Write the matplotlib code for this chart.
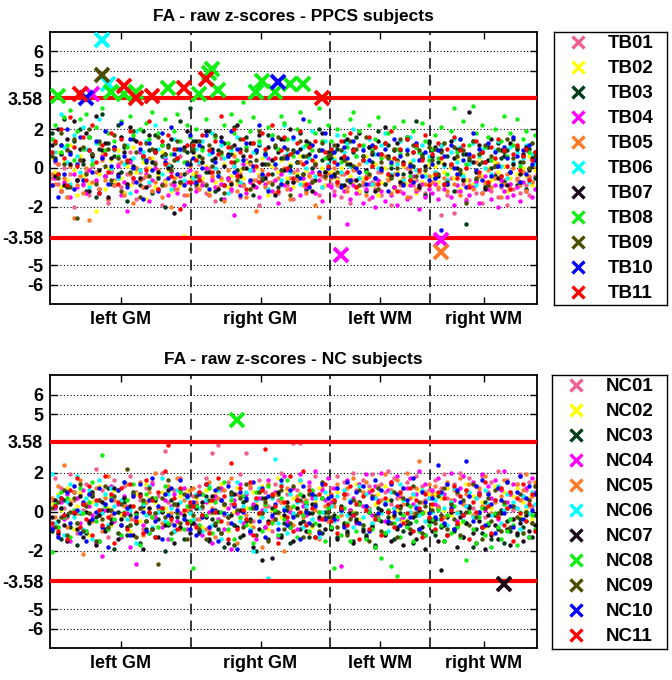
import numpy as np
import matplotlib.pyplot as plt
from matplotlib.lines import Line2D

plt.rcParams['font.family'] = ['Liberation Sans', 'DejaVu Sans']
plt.rcParams['font.weight'] = 'bold'

regions = ["left GM", "right GM", "left WM", "right WM"]
n_regions = [45, 44, 32, 34]
thr = 3.58
yticks = [-6, -5, -3.58, -2, 0, 2, 3.58, 5, 6]
ytick_labels = ["-6", "-5", "-3.58", "-2", "0", "2", "3.58", "5", "6"]
grid_y = [-6, -5, -2, 0, 2, 5, 6]

tb_names = ["TB01", "TB02", "TB03", "TB04", "TB05", "TB06", "TB07", "TB08", "TB09", "TB10", "TB11"]
nc_names = ["NC01", "NC02", "NC03", "NC04", "NC05", "NC06", "NC07", "NC08", "NC09", "NC10", "NC11"]
colors = ['#f0608e', '#ffff00', '#003d1c', '#ff00ff', '#ff7a28', '#00ffff',
          '#1c0a1c', '#11ee11', '#4d4d00', '#0000ff', '#ff0000']

# z-scores (x10) per region, one line per region group: left GM, right GM, left WM, right WM
# ---- PPCS subjects ----
TB01 = [-5, 3, -8, -12, 0, -15, -3, -20, -6, 4, -9, -2, -14, 1, -7, -11, 5, -4, -18, -1, -6, 2, -10, -13, -3, 8, -7, -16, -2, -5, 0, -9, -12, 3, -4, -19, -6, 1, -8, -11, -3, 6, -14, -2, -7,
        -4, -10, 2, -7, -13, 0, -5, -17, -2, 5, -9, -6, -12, 1, -3, -15, -8, 4, -1, -10, -6, -19, 2, -4, -11, -7, 0, -13, -2, 6, -9, -5, -16, -1, 3, -8, -12, -3, -6, 1, -14, -4, -9, 0,
        -8, -12, -5, -15, -3, -10, -18, -6, -1, -13, -9, -4, -16, -7, -11, -2, -14, -8, -5, -19, -10, -3, -12, -7, 0, -15, -9, -6, -11, -4, -13, -8,
        -7, -3, -11, -24, -9, -14, -5, -23, -12, -2, -8, -16, -6, -10, -13, -4, -18, -9, -7, -12, -3, -15, -10, -6, -19, -8, -11, -5, -13, -2, -9, -14, -7, -4]
TB02 = [5, -2, 8, -10, 3, -6, 12, -1, -14, 6, -4, 10, -8, 2, -22, -3, 7, -11, 0, 4, -7, 9, -5, -13, 1, -9, 11, -2, -6, 3, -16, 0, 5, -10, -3, 8, -7, -1, -12, 4, -4, -9, -35, 2, -6,
        -3, 6, -9, -5, 1, -12, 4, -7, -2, -6, 2, -10, -4, 7, -8, -1, -5, 3, -11, -6, 0, -3, 5, -9, -14, 1, -6, -2, 4, -8, -5, 2, -10, -3, 6, -7, -1, -4, -12, 3, -6, 0, -9, -2,
        -2, 5, -6, 0, -10, 3, -4, -8, 1, -12, -5, 6, -3, -9, 2, -14, -7, 0, -4, 4, -11, -2, -6, 1, -8, 3, -5, -13, -1, -7, -3, 2,
        -4, 1, -7, 3, -2, -9, 0, -5, 4, -11, -3, -6, 2, -8, -1, 5, -4, -10, 0, -6, 3, -2, -7, 1, -12, -5, 2, -3, -8, 0, -4, 6, -9, -1]
TB03 = [18, 5, -3, 12, 25, -10, 8, 14, -6, 20, 2, -12, 16, 7, -15, 10, 28, -4, 13, -8, 6, 22, -2, 11, -17, 4, 15, 0, -9, 19, 3, 9, -13, 17, -5, 6, -20, 12, 1, -7, 10, 24, -3, 8, 31,
        14, -8, 6, 11, -2, 19, 4, -12, 9, -16, 13, -5, 7, 21, -1, 10, -9, 16, 3, -14, 8, 12, -6, 2, 17, -3, 11, -10, 5, 15, -7, 1, 9, -4, 18, 6, -11, 13, 0, -6, 20, 4, -2, 8,
        5, -4, 10, -9, 14, 2, -7, 8, 16, -2, 6, -12, 11, 3, -5, 19, 7, -8, 12, 0, -10, 4, 9, -3, 15, -6, 1, 24, -9, 7, -14, 13,
        9, -5, 3, 12, -8, 6, 1, -12, 10, -3, 7, -29, 4, 14, -6, 2, 8, -10, 11, 0, -4, 13, 5, -7, 9, -2, 15, -9, 3, 6, -11, 10, 1, -5]
TB04 = [-9, -5, 2, -12, -7, 10, -15, -3, -10, 4, -8, -13, -1, 38, -6, -11, 6, -4, -16, -2, -9, 1, -14, -7, -22, 3, -5, -12, 8, -10, -3, -17, -6, 0, -11, -8, 5, -14, -2, -9, -13, -4, -19, -7, -1,
        -7, -12, -4, -9, 0, -14, -6, -10, -2, -8, -16, -5, -11, -24, -3, -9, 2, -13, -7, -1, -10, -15, -4, -8, 5, -12, -6, -18, -3, -9, -1, -11, -7, 3, -14, -5, -10, -8, -2, -13, -6, -17, -4, -9,
        -10, -14, -7, -45, -12, -29, -16, -9, -13, -5, -18, -11, -8, -15, -20, -6, -12, -17, -3, -14, -10, -19, -7, -13, -16, -9, -4, -12, -21, -8, -15, -11,
        -13, -8, -16, -37, -11, -6, -15, -19, -9, -12, -5, -17, -14, -10, -7, -18, -13, -4, -11, -16, -9, -20, -6, -12, -15, -8, -14, -10, -17, -7, -12, -5, -15, -11]
TB05 = [-3, -8, 2, -12, -5, -15, 1, -26, -9, -4, -13, 0, -27, -7, -2, -11, 4, -6, -16, -1, -9, -5, 3, -14, -8, -3, -18, 0, -6, -10, -4, 5, -12, -7, -1, -15, -9, 2, -20, -5, -11, -3, -8, -14, 1,
        -6, -2, -11, 3, -8, -14, -4, 0, -10, -5, -17, -1, -7, 6, -12, -3, -9, -15, 2, -6, -22, -4, -1, -10, -7, 4, -13, -5, -8, 0, -11, -16, -2, -6, 3, -9, -13, -4, -7, -19, -25, -10, -5, -3,
        -5, 0, -9, -3, 4, -12, -6, -1, -10, 2, -7, -14, -4, 1, -8, -11, -2, 6, -6, -13, -3, 3, -9, -5, -15, 0, -7, -11, -2, 5, -8, -4,
        -7, -2, -10, -43, -5, -12, 1, -8, -3, -14, -6, 0, -9, -11, 3, -4, -13, -7, -1, -10, -5, 2, -15, -8, -3, -11, 0, -6, -9, -2, -12, -4, -7, 1]
TB06 = [15, 8, -4, 28, 11, 3, -8, 17, 6, -2, 21, 10, -10, 4, 13, 25, 66, 7, 43, 0, 9, -5, 16, 2, 12, -13, 5, 19, -1, 8, 14, -7, 3, 22, 10, -3, 6, 1, -11, 15, 4, 9, -6, 12, 2,
        -5, 10, 3, 14, -9, 7, 18, 0, -3, 12, 5, -13, 9, 1, 16, -7, 4, 11, -1, 8, 39, 13, -4, 6, -11, 17, 2, 10, -6, 22, 7, -2, 15, 3, -8, 11, 0, 5, 19, -4, 9, -10, 14, 2,
        10, 4, 17, -2, 8, 13, 1, 20, 6, -5, 11, 3, 15, -8, 7, 0, 12, 18, 5, -3, 9, 2, 14, -6, 10, 16, 4, -1, 8, 12, -4, 6,
        5, -2, 9, 12, 1, -6, 8, 15, 3, 11, -4, 7, 2, 13, -9, 6, 10, 0, 4, -3, 9, 14, 1, 6, -5, 11, 3, 8, -1, 5, 12, -7, 7, 2]
TB07 = [12, -4, 20, 7, -9, 15, 2, 24, -6, 10, 4, 18, -12, 6, 27, -1, 9, 13, -15, 5, 11, -3, 16, 8, -8, 21, 1, 14, -5, 6, -10, 17, 3, 9, -2, 12, 7, 0, 15, -23, 5, -7, 11, 19, 2,
        8, 14, -6, 3, 19, -2, 10, 5, -11, 16, 1, 7, -8, 12, 22, -4, 6, 0, 13, -9, 9, 17, 2, -5, 11, 4, -14, 8, 15, -1, 6, 20, -7, 3, 10, -3, 14, 7, -12, 2, 9, 18, -2, 5,
        8, -3, 12, 5, -9, 15, 2, 10, -6, 18, 4, -1, 11, 7, -12, 14, 0, 21, 6, -4, 9, 13, -7, 3, 16, -2, 8, 11, -10, 5, 1, 14,
        6, 11, -4, 9, 2, -8, 14, 5, 0, 10, -6, 7, 29, 3, -2, 12, 8, -11, 4, 15, 1, -5, 9, 6, -9, 13, 2, 10, -3, 7, 11, -1, 5, 8]
TB08 = [15, 22, 37, 8, 26, 12, 30, 4, 19, 25, 10, 28, 16, 2, 21, 13, 31, 9, 18, 39, 14, 6, 24, 38, 11, 27, 17, 39, 20, 5, 23, 15, 29, 8, 18, 12, 25, 41, 7, 19, 28, 14, 3, 22, 16,
        12, 20, 38, 9, 25, 49, 51, 16, 40, 7, 22, 13, 28, 18, 4, 24, 34, 11, 19, 26, 39, 14, 45, 8, 21, 17, 39, 10, 27, 23, 15, 43, 6, 20, 29, 43, 12, 24, 9, 18, 31, 14, 5, 22,
        14, 8, 20, 3, 17, 11, 25, 29, 6, 19, 12, -2, 22, 9, 15, 26, 5, 13, 18, 2, 21, 10, 7, 24, 16, -4, 19, 11, 8, 23, 14, 4,
        10, 17, 5, 21, 13, -3, 19, 31, 8, 15, 24, 2, 12, 32, 18, 7, 22, 11, 16, 4, 20, 9, 14, 27, 6, 18, 12, 25, 1, 15, 19, 8, 13, 17]
TB09 = [6, 13, -5, 18, 2, 9, -10, 15, -26, 4, 11, -3, 20, 7, -8, 14, 48, 1, 10, -6, 17, 5, -12, 12, 3, -2, 19, 8, -15, 6, 13, -4, 10, 2, 16, -9, 7, 11, -1, 4, 14, -7, 9, 3, -11,
        10, -4, 14, 5, -9, 12, 1, 17, -2, 8, -13, 6, 11, 3, -6, 15, 0, 9, -11, 13, 4, 19, -5, 7, 2, -8, 12, 16, -1, 5, 10, -14, 8, 3, 14, -3, 6, 11, -7, 2, 9, 13, -4, 6,
        7, 12, -2, 9, 4, -6, 14, 1, 10, -9, 6, 16, -3, 8, 11, -11, 3, 13, 5, -5, 10, 0, 15, -8, 7, 2, 12, -4, 9, 6, -1, 11,
        4, 10, -3, 8, 13, -7, 2, 11, 6, -1, 9, -18, 5, 14, -5, 7, 3, 12, -9, 6, 1, 10, -4, 8, 15, -2, 5, 11, -7, 3, 9, 0, 13, 6]
TB10 = [-9, 4, -15, 12, -3, 20, 7, -11, 2, 16, -6, 36, 9, -2, 14, -13, 5, 19, -8, 1, 11, -4, 23, 6, -10, 15, 0, -7, 10, -16, 4, 13, -1, 8, -12, 18, 3, -5, 21, 7, -3, 10, -9, 2, 17,
        5, -7, 12, 0, 17, -11, 8, 3, -4, 14, -9, 6, 19, -2, 10, -14, 4, 13, -6, 1, 9, 22, -3, 7, -12, 15, 2, 44, -8, 11, 5, -1, 16, 8, -5, 25, 3, -10, 12, 6, -2, 9, 18, 0,
        -4, 8, 2, -10, 11, 5, -6, 14, 0, -2, 9, -8, 4, 12, -5, 7, -1, 10, -12, 3, 15, -3, 6, -9, 9, 1, -7, 13, 4, -4, 8, -6,
        2, -5, 9, -32, 6, -8, 12, 0, -3, 15, 4, -10, 7, 18, -1, 10, -6, 3, 13, -4, 8, 1, -9, 11, 5, -2, 16, 6, -7, 9, -3, 12, 2, 4]
TB11 = [8, 14, -3, 20, 5, -9, 26, 11, 1, 38, 16, -6, 9, 22, 3, -13, 12, 7, -2, 18, 10, -8, 15, 42, 4, 19, -5, 36, 13, 6, -1, 24, 37, 8, -11, 14, 2, 17, -4, 10, 5, -21, 41, 12, -7,
        12, 4, -6, 17, 46, 9, -2, 14, 7, 27, -9, 11, 3, 20, -4, 8, 15, -11, 6, 13, 1, -7, 18, 10, -3, 22, 5, -12, 9, 16, 0, 7, -5, 13, 19, 2, -8, 11, 4, 14, -3, 36, 8, 1,
        10, 3, -7, 14, 6, -2, 18, 9, -10, 12, 4, -5, 16, 1, 11, -8, 7, 13, -3, 19, 5, -12, 10, 2, 15, -6, 8, 12, -1, 4, 17, -9,
        7, -3, 13, 5, -8, 10, 2, 16, -5, 9, 12, 0, -10, 6, 14, -2, 8, 3, -7, 11, 5, 15, -4, 9, 1, -11, 7, 12, -1, 6, 10, -6, 4, 8]

# ---- NC subjects ----
NC01 = [5, 17, -8, 12, 2, -3, 19, 6, -11, 9, 1, 14, -5, 8, 22, -2, 11, 4, -13, 7, 16, 0, -7, 13, 3, 18, -4, 10, 6, -9, 12, 2, 15, -1, 8, 20, 31, 5, -6, 11, 3, 17, -3, 9, 1,
        8, -4, 13, 2, 17, -9, 30, 6, 34, 11, -2, 15, 4, -7, 9, 19, 1, 30, 12, -5, 7, 16, -1, 10, 3, -10, 14, 6, 20, -3, 9, 2, 35, 11, 35, 5, -6, 13, 8, 18, 0, 12, -4, 7,
        12, 6, 18, 2, 15, 9, -3, 20, 11, 5, 16, 1, 13, 19, 8, -2, 14, 10, 21, 4, 17, 7, -4, 12, 15, 3, 9, 18, 0, 13, 6, 11,
        10, 16, 3, 12, 19, 7, -1, 14, 9, 20, 5, 11, 17, 2, 13, 8, 18, -3, 10, 15, 6, 21, 12, 4, 16, 9, 1, 14, 19, 7, 11, 15, 3, 13]
NC02 = [4, -6, 9, 1, -3, 12, 6, -9, 3, 10, -1, 7, -12, 5, 0, 13, -4, 8, 2, -7, 11, 4, -2, 15, 6, -10, 3, 9, -5, 1, 14, 7, -3, 5, -8, 10, 2, -1, 12, 4, -6, 8, 0, 11, 3,
        -3, 7, 2, -8, 11, 5, -1, 9, -5, 14, 3, -10, 6, 0, 12, -4, 8, 2, -7, 10, 4, -2, 13, 6, -9, 1, 9, 17, -3, 5, 11, -6, 7, 2, 15, -1, 4, 9, -8, 6, 12, 0, -4, 8,
        6, -2, 10, 3, -6, 12, 5, 0, 14, -4, 8, 2, 11, -7, 4, 9, -1, 13, 6, -3, 10, 1, 7, -5, 12, 3, 8, -2, 11, 5, 0, 9,
        3, 9, -4, 7, 1, 12, -2, 6, 10, -6, 4, 14, 0, 8, -3, 11, 5, -8, 9, 2, 13, -1, 6, 10, -5, 3, 8, 12, -2, 5, 1, 7, -4, 9]
NC03 = [-10, 3, -5, -14, 6, -2, -8, 10, -17, -1, 4, -11, -6, 8, -3, -15, 1, -9, 12, -4, -19, 0, -7, 5, -12, -2, 9, -6, -16, 3, -9, -1, 7, -13, -4, 2, -20, -7, 6, -10, -3, 11, -14, -5, 0,
        -6, 4, -11, -2, 8, -15, -4, 1, -9, 6, -18, -3, 10, -7, 0, -13, 5, -5, -10, 3, -20, -1, 7, -8, -14, 2, -4, 9, -12, -6, 1, -16, -2, 6, -9, -5, 4, -13, -1, 8, -7, -11, 0, -3,
        -8, -2, -13, 3, -6, -10, 1, -15, -4, 5, -9, -12, 0, -7, -17, 2, -5, -11, -3, 6, -14, -8, -1, -10, 4, -6, -16, -2, -9, 0, -12, -4,
        -5, -12, 2, -8, -15, -3, 4, -10, -7, 0, -13, -6, 3, -18, -9, -1, -11, 5, -7, -14, -2, -9, 1, -16, -5, -10, 3, -12, -4, -8, 0, -13, -6, -2]
NC04 = [-8, 2, -12, 5, -4, 9, -15, 0, 7, -6, 11, -10, 3, -2, -16, 6, -23, 1, -9, 13, -5, 4, -13, 8, -1, -18, 10, -27, 2, -7, 5, -11, 14, -3, 0, -8, 6, -14, 3, 9, -5, -1, 12, -9, 4,
        3, -7, 10, -12, 5, 0, -16, 8, -4, 12, -9, 2, -19, 6, -1, 14, -6, 9, -11, 4, -14, 7, 1, -8, 16, -3, 10, -13, 5, 18, -5, 0, 12, -9, 19, 3, -2, 15, 7, 21, -4, 11, 6, 17,
        5, 12, -4, -28, 9, 16, 1, 7, -6, 14, 3, 19, 10, -2, 13, 6, 20, -5, 11, 15, 2, 18, 8, -3, 12, 17, 4, 9, 21, -1, 14, 7,
        11, 4, 17, -2, 9, 14, 20, 6, -5, 12, 18, 3, 8, 15, -3, 10, 19, 1, 13, 7, 16, -4, 11, 21, 5, 9, 14, 2, 18, 8, 12, 6, 17, 10]
NC05 = [7, -3, 13, 2, 24, -8, 5, 10, -1, 16, -22, 4, 9, -5, 12, 1, -10, 7, 18, -2, 6, 11, -7, 3, 14, -4, 8, 0, 15, -12, 5, 10, -3, 20, 2, -6, 9, 13, -1, 4, 17, -9, 6, 1, 11,
        12, 5, -4, 9, -9, 15, 2, -13, 7, 0, 11, -6, 17, 4, -16, 8, 1, -2, 13, -8, 6, 10, -18, 3, 14, -5, 9, -1, 5, -20, 12, 2, -7, 8, 16, -3, 6, -11, 10, 1, -14, 7, 3, -5,
        9, 3, 14, -2, 7, 12, 0, 17, 5, -6, 10, 15, 2, 8, -4, 13, 6, 19, 1, 11, -3, 16, 9, 4, 20, 7, -1, 12, 26, 5, 10, 14,
        8, 13, 2, 10, -3, 15, 6, 11, 0, 17, 4, 9, 14, -2, 7, 12, 3, 18, 9, -1, 5, 13, 8, 16, 2, 10, -4, 14, 6, 11, 19, 3, 8, 15]
NC06 = [19, -6, 8, 2, -12, 5, 14, -3, 18, 0, -9, 7, 11, -14, 4, 16, -1, 9, -7, 12, 3, -11, 6, 15, -4, 1, 10, -16, 8, 4, -2, 13, -8, 6, 0, 17, -5, 9, 2, -10, 11, 5, -3, 7, -1,
        -4, 9, 2, -10, 6, 13, -7, 0, 11, -14, 4, -2, 8, -17, 15, -5, 3, 10, -9, -20, 6, 12, -3, 1, -34, 7, 27, -6, 14, 2, -11, 9, -1, 5, 16, -8, 3, 11, -4, 7, -13, 0, 10, 4,
        3, -5, 8, 0, 11, -2, 6, -8, 4, 13, -3, 9, 1, -6, 7, 12, -1, 5, -10, 10, 2, -4, 14, 6, -7, 0, 9, 3, -2, 11, -5, 7,
        0, 6, -4, 9, 2, -7, 5, 12, -1, 8, -5, 3, 10, -3, 7, 0, -8, 11, 4, -2, 6, 13, -6, 1, 9, -4, 5, 2, -9, 8, 3, -1, 10, 4]
NC07 = [-3, 6, -11, 2, -7, -15, 4, -1, -9, 8, -13, 0, -5, 10, -17, -2, 5, -10, 1, -6, 12, -14, -4, 7, -8, 3, -12, -1, 9, -19, -5, 2, -9, 6, -13, 0, -7, 11, -3, -16, 4, -8, -2, 8, -11,
        -6, 2, -10, 5, -3, -14, 8, -7, 0, -11, 4, -16, -2, 9, -8, 1, -12, 6, -4, -18, 3, -9, -25, 7, -5, -24, 0, 10, -13, -2, 5, -8, -15, 2, -6, 8, -10, -1, 4, -13, -3, 7, -9, 0,
        -9, -3, -14, 2, -7, -11, -1, -16, -5, 4, -10, -13, 0, -8, -18, -4, 1, -12, -6, -15, -2, -9, 3, -17, -7, -11, -3, -14, 1, -8, -19, -5,
        -10, -4, -15, -30, -7, -12, 0, -9, -18, -3, -13, -6, 2, -11, -16, -5, -8, -19, -2, -12, -7, -14, -1, -37, -9, -17, -4, -11, -6, -15, -2, -10, -13, -7]
NC08 = [-21, 4, -8, 10, -3, 7, -13, 1, -6, 12, -1, -10, 5, 15, -5, -15, 29, 3, -9, 8, -4, 11, -12, 0, 6, -7, 14, -2, -17, 5, 9, -11, -3, 7, -8, 1, 13, -6, -14, 4, -1, 10, -9, 3, -5,
        -29, 3, -7, 9, -2, 12, -11, 5, -5, 0, 15, -9, 6, -14, 47, -3, 8, -7, 2, -16, 10, -1, -10, 4, 13, -6, 1, -12, 7, -4, 16, -8, 3, -13, 9, -2, 5, -10, 11, -6, 0, 7, -15, 2,
        -8, -29, -3, -12, 2, -6, -15, -1, -10, 4, -7, -14, 0, -9, -18, -4, -24, -11, 1, -28, -6, -33, -13, -2, -8, 3, -15, -5, -10, -1, -12, -7,
        -4, -10, 1, -7, -15, -2, -11, 3, -8, -13, -5, -25, 0, -9, -16, -3, 2, -12, -6, -18, -1, -8, -14, 4, -10, -4, -7, -17, 0, -11, -5, -13, -2, -9]
NC09 = [2, -8, 5, -3, 11, -12, 0, 7, -6, 14, -10, 3, -1, 9, -15, 6, -4, 13, -8, 1, 8, -11, 4, -2, 22, -7, 10, -13, 2, 6, -5, 12, -9, -1, -27, 7, -3, 16, -11, 4, 0, -6, 9, -14, 3,
        -2, 8, -9, 3, -14, 6, 0, -6, 12, -11, 4, -3, 9, -17, 1, 7, -8, 14, -5, 2, -12, 10, -1, 5, -15, 8, -4, 0, 11, -9, 3, -6, 13, -2, 6, -13, 1, 9, -7, 4, -10, 15, -3, 0,
        -3, 5, -8, 1, 9, -12, -4, 6, -1, 11, -7, 3, -15, 8, -2, 12, -10, 4, 0, -6, 10, -13, 2, 7, -5, -9, 13, -1, 5, -11, 3, -4,
        1, -6, 8, -2, 12, -9, 4, -4, 10, -12, 6, 0, -7, 14, -3, 9, -14, 2, 7, -5, 11, -1, -10, 5, 15, -8, 3, -3, 9, -11, 0, 6, -6, 13]
NC10 = [-9, 3, -13, 7, -2, 10, -6, 13, 1, -11, 5, -15, 9, -4, 0, 12, -8, 4, -18, 6, -1, 11, -7, 15, 2, -12, 8, -3, 14, 0, -10, 6, 17, -5, 3, -14, 9, -2, 12, -7, 1, 16, -4, 8, -9,
        5, -12, 9, -3, 14, -8, 1, 11, -15, 6, -1, 13, -6, 3, -19, 10, 0, 7, -10, 15, 2, -5, 12, -13, 8, -2, 4, -9, 16, 1, -7, 11, -3, 6, -14, 13, 0, -6, 9, 3, -11, 14, -4, 7,
        8, -4, 12, 1, -8, 15, 5, -2, 10, -6, 13, 3, -10, 7, 16, -1, 11, 4, -5, 14, 0, 9, -7, 12, 6, -3, 17, 2, -9, 10, 5, -1,
        7, -3, 24, 10, -6, 14, 2, -9, 11, 5, -2, 26, 8, -5, 13, 0, 16, -7, 9, 4, -11, 12, 6, -1, 15, 3, -8, 10, 18, -4, 7, 13, 1, 9]
NC11 = [-6, 3, -10, 7, -2, -14, 11, 0, 17, -8, 4, -4, 13, -12, 6, 1, -7, 18, -3, 9, -16, 5, 12, -1, -9, 14, 3, -5, 8, -11, 16, 0, 6, -13, 10, 2, 21, 34, -4, 7, -9, 12, 1, -6, 5,
        3, -8, 10, -2, 14, -11, 6, 0, 17, -5, 8, -14, 25, 4, -9, 12, 1, -4, 15, -12, 7, -1, 11, 32, -6, 9, 3, -16, 13, 5, -3, 18, -10, 6, 0, 21, -7, 11, 2, -13, 9, -4, 14, 4,
        -5, 6, -11, 2, 9, -7, 13, -2, 4, -14, 8, 1, -9, 11, -4, 5, -12, 7, 0, 15, -8, 3, 10, -6, -1, 12, -10, 6, 2, -13, 9, -3,
        4, -9, 10, -4, 7, -12, 1, 13, -6, 8, -2, 11, -14, 5, 0, 9, -8, 15, 3, -11, 6, -3, 12, -7, 2, 10, -15, 7, -1, 14, -5, 4, 9, -10]

tb_z = np.array([TB01, TB02, TB03, TB04, TB05, TB06, TB07, TB08, TB09, TB10, TB11]) / 10.0
nc_z = np.array([NC01, NC02, NC03, NC04, NC05, NC06, NC07, NC08, NC09, NC10, NC11]) / 10.0


def draw_panel(ax, lax, z, names, title):
    x = np.arange(1, z.shape[1] + 1)
    for k in range(len(names)):
        v = z[k]
        out = np.abs(v) > thr
        ax.plot(x[~out], v[~out], 'o', ms=3.2, color=colors[k], mec='none', zorder=2)
    for y in grid_y:
        ax.axhline(y, color='k', ls=(0, (1, 2)), lw=0.8, zorder=1)
    ax.axhline(thr, color='#ff0000', lw=3, zorder=3)
    ax.axhline(-thr, color='#ff0000', lw=3, zorder=3)
    for k in range(len(names)):
        v = z[k]
        out = np.abs(v) > thr
        ax.plot(x[out], v[out], 'x', ms=10, mew=2.8, color=colors[k], zorder=4)

    edges = np.cumsum(n_regions) + 0.5
    starts = np.concatenate([[0.5], edges[:-1]])
    for e in edges[:-1]:
        ax.axvline(e, color='k', ls=(0, (7, 4)), lw=1.1, zorder=1)
    ax.set_xlim(0.5, edges[-1])
    ax.set_ylim(-7, 7)
    ax.set_xticks((starts + edges) / 2, regions)
    ax.set_yticks(yticks, ytick_labels)
    ax.tick_params(direction='in', top=True, right=True, length=5, width=1,
                   labelsize=13, pad=5)
    for s in ax.spines.values():
        s.set_linewidth(1.3)
    ax.set_title(title, fontsize=12.5, fontweight='bold', pad=8)

    # legend box
    lax.set_xticks([])
    lax.set_yticks([])
    for s in lax.spines.values():
        s.set_linewidth(1.0)
    handles = [Line2D([], [], ls='none', marker='x', ms=8.5, mew=2.4, color=c) for c in colors]
    lax.legend(handles, names, loc='center', frameon=False, fontsize=13.5,
               labelspacing=0.42, handletextpad=1.0, handlelength=1.2)


fig = plt.figure(figsize=(6.72, 6.80), dpi=100)
ax1 = fig.add_axes([0.0744, 0.553, 0.7247, 0.400])
lax1 = fig.add_axes([0.824, 0.551, 0.169, 0.402])
ax2 = fig.add_axes([0.0744, 0.047, 0.7247, 0.4015])
lax2 = fig.add_axes([0.821, 0.046, 0.172, 0.4025])

draw_panel(ax1, lax1, tb_z, tb_names, "FA - raw z-scores - PPCS subjects")
draw_panel(ax2, lax2, nc_z, nc_names, "FA - raw z-scores - NC subjects")

fig.savefig("out.png", dpi=100)
